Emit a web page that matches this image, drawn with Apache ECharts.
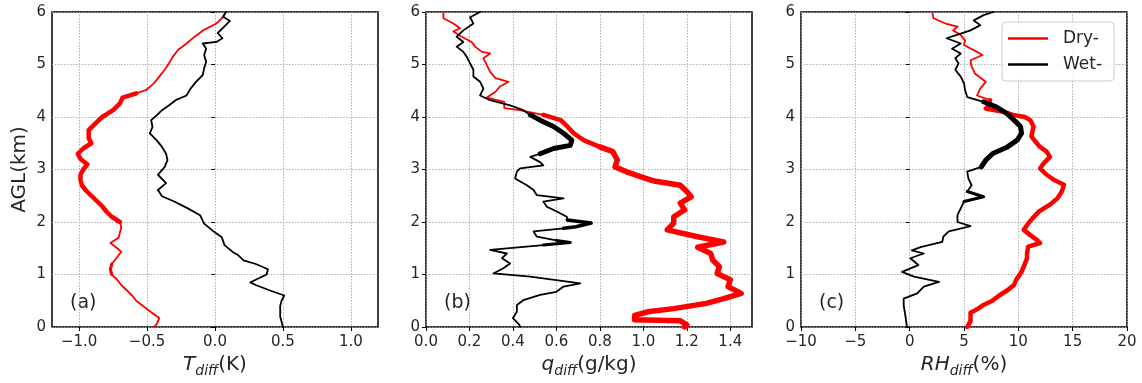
<!DOCTYPE html>
<html>
<head>
<meta charset="utf-8">
<script src="https://cdn.jsdelivr.net/npm/echarts@6/dist/echarts.min.js"></script>
<style>html,body{margin:0;padding:0;background:#fff}#c{width:1142px;height:383px}</style>
</head>
<body>
<div id="c"></div>
<script>
// ---- data: [height (km), value] ----
const aDry = [[0,-0.45],[0.05,-0.43],[0.17,-0.41],[0.3,-0.48],[0.4,-0.53],[0.5,-0.58],[0.6,-0.61],[0.7,-0.65],[0.8,-0.69],[0.9,-0.72],[1.0,-0.76],[1.1,-0.77],[1.2,-0.76],[1.3,-0.73],[1.43,-0.69],[1.5,-0.72],[1.6,-0.77],[1.7,-0.71],[1.8,-0.70],[1.9,-0.69],[2.0,-0.70],[2.1,-0.76],[2.2,-0.80],[2.3,-0.83],[2.4,-0.87],[2.5,-0.91],[2.6,-0.95],[2.7,-0.98],[2.8,-0.99],[2.9,-0.99],[3.0,-0.97],[3.1,-0.94],[3.2,-0.99],[3.3,-1.01],[3.4,-0.97],[3.5,-0.91],[3.6,-0.93],[3.75,-0.93],[3.88,-0.88],[4.0,-0.83],[4.13,-0.75],[4.26,-0.70],[4.37,-0.68],[4.45,-0.58],[4.51,-0.51],[4.64,-0.45],[4.77,-0.41],[4.9,-0.37],[5.02,-0.34],[5.15,-0.31],[5.28,-0.27],[5.4,-0.21],[5.53,-0.15],[5.66,-0.08],[5.78,0.01],[5.91,0.06],[6.0,0.08]];
const aWet = [[0,0.50],[0.1,0.49],[0.2,0.48],[0.3,0.48],[0.4,0.48],[0.5,0.49],[0.6,0.51],[0.7,0.40],[0.8,0.30],[0.85,0.26],[0.9,0.30],[1.0,0.38],[1.1,0.39],[1.2,0.30],[1.27,0.21],[1.37,0.17],[1.43,0.13],[1.56,0.07],[1.71,0.05],[1.84,-0.02],[1.97,-0.08],[2.13,-0.11],[2.26,-0.20],[2.39,-0.30],[2.49,-0.39],[2.61,-0.42],[2.74,-0.36],[2.9,-0.42],[3.05,-0.37],[3.18,-0.35],[3.3,-0.36],[3.43,-0.39],[3.56,-0.43],[3.69,-0.48],[3.81,-0.46],[3.94,-0.47],[4.03,-0.43],[4.13,-0.39],[4.22,-0.34],[4.32,-0.29],[4.41,-0.21],[4.54,-0.18],[4.67,-0.14],[4.8,-0.09],[4.93,-0.08],[5.05,-0.065],[5.18,-0.08],[5.3,-0.065],[5.4,-0.09],[5.43,0.01],[5.5,0.055],[5.6,0.02],[5.69,0.055],[5.83,0.11],[5.91,0.06],[6.0,0.08]];
const bDry = [[0,1.19],[0.04,1.20],[0.12,1.17],[0.14,0.96],[0.17,0.955],[0.22,0.96],[0.29,1.02],[0.35,1.14],[0.45,1.29],[0.54,1.37],[0.64,1.45],[0.77,1.39],[0.9,1.40],[1.02,1.34],[1.15,1.35],[1.27,1.32],[1.4,1.31],[1.52,1.25],[1.62,1.37],[1.72,1.25],[1.85,1.11],[1.98,1.14],[2.1,1.14],[2.23,1.19],[2.36,1.17],[2.48,1.22],[2.58,1.20],[2.7,1.17],[2.78,1.05],[2.86,0.99],[2.96,0.92],[3.05,0.87],[3.18,0.88],[3.34,0.86],[3.43,0.80],[3.56,0.725],[3.69,0.68],[3.82,0.65],[3.94,0.62],[4.04,0.54],[4.13,0.43],[4.17,0.36],[4.29,0.36],[4.37,0.28],[4.48,0.32],[4.58,0.34],[4.67,0.38],[4.74,0.32],[4.86,0.295],[4.99,0.28],[5.12,0.264],[5.21,0.295],[5.24,0.257],[5.34,0.226],[5.43,0.21],[5.53,0.164],[5.63,0.126],[5.69,0.157],[5.78,0.126],[5.88,0.08],[6.0,0.08]];
const bWet = [[0,0.433],[0.04,0.43],[0.17,0.40],[0.29,0.418],[0.42,0.418],[0.51,0.448],[0.61,0.525],[0.67,0.60],[0.77,0.633],[0.83,0.71],[0.86,0.71],[0.96,0.48],[1.02,0.31],[1.12,0.356],[1.21,0.387],[1.31,0.35],[1.4,0.372],[1.47,0.295],[1.56,0.54],[1.61,0.664],[1.65,0.60],[1.72,0.51],[1.82,0.495],[1.88,0.633],[1.91,0.69],[1.98,0.76],[2.04,0.65],[2.1,0.648],[2.2,0.602],[2.29,0.556],[2.39,0.54],[2.45,0.633],[2.51,0.51],[2.61,0.495],[2.7,0.464],[2.83,0.41],[2.96,0.418],[3.02,0.433],[3.08,0.54],[3.14,0.525],[3.24,0.48],[3.3,0.525],[3.4,0.587],[3.46,0.664],[3.56,0.671],[3.69,0.633],[3.82,0.587],[3.94,0.525],[4.04,0.48],[4.13,0.448],[4.22,0.387],[4.32,0.295],[4.41,0.249],[4.54,0.264],[4.67,0.249],[4.77,0.218],[4.9,0.218],[5.02,0.203],[5.15,0.187],[5.24,0.172],[5.34,0.141],[5.43,0.172],[5.53,0.141],[5.65,0.172],[5.78,0.218],[5.9,0.203],[6.0,0.249]];
const cDry = [[0,5.3],[0.11,5.6],[0.27,5.6],[0.35,6.3],[0.42,6.8],[0.5,7.6],[0.61,8.3],[0.7,9.0],[0.8,9.6],[0.9,9.8],[1.05,10.3],[1.15,10.5],[1.31,10.8],[1.4,10.8],[1.53,10.9],[1.6,12.0],[1.66,11.7],[1.75,11.1],[1.85,10.5],[1.97,10.9],[2.07,11.3],[2.2,11.9],[2.33,12.9],[2.45,13.6],[2.58,14.0],[2.71,14.2],[2.8,13.3],[2.9,12.6],[3.02,12.0],[3.11,12.3],[3.24,12.9],[3.34,12.6],[3.43,12.0],[3.5,11.7],[3.63,11.2],[3.82,11.4],[3.94,11.1],[4.0,10.6],[4.04,9.5],[4.1,8.6],[4.16,7.0],[4.22,7.3],[4.32,7.4],[4.41,6.2],[4.54,6.5],[4.67,7.0],[4.83,6.0],[4.96,5.7],[5.08,5.6],[5.18,6.7],[5.24,6.2],[5.37,5.0],[5.46,5.1],[5.56,4.7],[5.65,4.0],[5.72,4.4],[5.78,3.3],[5.88,2.2],[5.97,2.1]];
const cWet = [[0,-0.25],[0.22,-0.4],[0.41,-0.55],[0.54,-0.55],[0.64,0.7],[0.77,1.3],[0.86,2.7],[0.96,0.4],[1.05,-0.7],[1.18,0.8],[1.31,0.06],[1.4,1.3],[1.46,0.2],[1.52,1.0],[1.62,3.0],[1.72,3.1],[1.82,3.6],[1.92,5.6],[2.0,4.4],[2.13,4.4],[2.26,4.7],[2.39,5.0],[2.48,6.8],[2.58,5.3],[2.7,5.7],[2.83,5.4],[2.96,5.3],[3.05,6.6],[3.18,7.0],[3.31,7.7],[3.43,9.0],[3.56,9.9],[3.69,10.3],[3.82,10.2],[3.94,9.6],[4.06,9.0],[4.19,8.0],[4.29,6.8],[4.38,5.3],[4.51,5.1],[4.64,5.0],[4.77,4.7],[4.9,4.2],[5.02,4.5],[5.12,4.2],[5.21,4.7],[5.3,3.9],[5.4,4.7],[5.5,3.4],[5.59,4.7],[5.65,5.6],[5.75,6.5],[5.84,5.9],[5.94,6.8],[6.0,7.7]];

const ticksA = [-1.0,-0.5,0.0,0.5,1.0];
const ticksB = [0.0,0.2,0.4,0.6,0.8,1.0,1.2,1.4];
const ticksC = [-10,-5,0,5,10,15,20];
const panelLabels = ['(a)','(b)','(c)'];
const seriesNames = ['Dry-','Wet-'];

// ---- styling / layout ----
const FONT = 'DejaVu Sans';
const RED = '#ff0000', BLACK = '#000000';
const grids = [{left:52},{left:426},{left:801}];
const xRanges = [[-1.2,1.2],[0,1.5],[-10,20]];
const xTicks = [ticksA, ticksB, ticksC];
const xNames = [['T','(K)'],['q','(g/kg)'],['RH','(%)']];
const fmt1 = v => v.toFixed(1).replace('-', '\u2212');
const fmt0 = v => String(v).replace('-', '\u2212');
const xFmts = [fmt1, fmt1, fmt0];
const data = [[aDry,aWet],[bDry,bWet],[cDry,cWet]];
// thick overlays [panel, which(0 dry,1 wet), lo, hi, width]
const thick = [
  [0,0,2.0,4.45,4.5],[0,0,1.0,1.25,3],[0,0,1.55,1.65,3],
  [1,0,0,3.5,5.5],[1,0,3.43,4.1,4.5],[1,1,3.3,4.1,5],[1,1,1.55,1.66,3],[1,1,1.88,2.05,3.5],
  [2,0,0,4.35,4.5],[2,1,3.05,4.3,5],[2,1,2.39,2.58,3]
];

const toXY = arr => arr.map(p => [p[1], p[0]]);
const sub = (arr, lo, hi) => toXY(arr.filter(p => p[0] >= lo && p[0] <= hi));

const option = {
  animation: false,
  grid: grids.map(g => ({left:g.left, width:326, top:12, height:315, show:true, borderColor:'#000', borderWidth:1.5, backgroundColor:'transparent'})),
  xAxis: grids.map((g,i) => ({
    gridIndex:i, type:'value', min:xRanges[i][0], max:xRanges[i][1],
    axisLine:{show:false},
    axisTick:{show:true, length:4, lineStyle:{color:'#000', width:1}, customValues:xTicks[i]},
    axisLabel:{customValues:xTicks[i], formatter:xFmts[i], fontSize:15, color:'#262626', margin:8, fontFamily:FONT},
    splitLine:{show:true, lineStyle:{type:[1.5,1.5], color:'#a8a8a8', width:0.9}},
    name:'{i|'+xNames[i][0]+'}{s|diff}{n|'+xNames[i][1]+'}',
    nameLocation:'middle', nameGap:24,
    nameTextStyle:{rich:{
      i:{fontSize:20, fontStyle:'italic', fontFamily:FONT, color:'#262626', lineHeight:26},
      s:{fontSize:14, fontStyle:'italic', fontFamily:FONT, color:'#262626', lineHeight:14, verticalAlign:'bottom'},
      n:{fontSize:20, fontFamily:FONT, color:'#262626', lineHeight:26}
    }}
  })),
  yAxis: grids.map((g,i) => ({
    gridIndex:i, type:'value', min:0, max:6, interval:1,
    axisLine:{show:false},
    axisTick:{show:true, length:4, lineStyle:{color:'#000', width:1}},
    axisLabel:{fontSize:15, color:'#262626', margin:6, fontFamily:FONT},
    splitLine:{show:true, lineStyle:{type:[1.5,1.5], color:'#a8a8a8', width:0.9}},
    name: i===0 ? 'AGL(km)' : '',
    nameLocation:'middle', nameGap:22,
    nameTextStyle:{fontSize:20, fontFamily:FONT, color:'#262626'}
  })),
  legend: {
    data: seriesNames, orient:'vertical', left:1002, top:22,
    icon:'rect', itemWidth:40, itemHeight:2.5,
    padding:[8,12,8,6], itemGap:9,
    backgroundColor:'rgba(255,255,255,0.85)', borderColor:'#cccccc', borderWidth:1, borderRadius:4,
    textStyle:{fontSize:17, fontFamily:FONT, color:'#262626', padding:[0,0,0,10]}
  },
  graphic: panelLabels.map((t,i) => ({
    type:'text', left: grids[i].left + 18, top: 294,
    style:{text:t, fontSize:19, fontFamily:FONT, fill:'#262626'}
  })),
  series: []
};

data.forEach((pair, i) => {
  pair.forEach((arr, k) => {
    option.series.push({
      type:'line', name:seriesNames[k], xAxisIndex:i, yAxisIndex:i,
      data:toXY(arr), symbol:'none', smooth:false, z: 2 + k*2,
      lineStyle:{color:k?BLACK:RED, width:1.8, join:'round', cap:'round'},
      itemStyle:{color:k?BLACK:RED}
    });
  });
});
thick.forEach(t => {
  const [i,k,lo,hi,w] = t;
  option.series.push({
    type:'line', name:'thick'+i+k+lo, xAxisIndex:i, yAxisIndex:i,
    data:sub(data[i][k], lo, hi), symbol:'none', z: 3 + k*2,
    lineStyle:{color:k?BLACK:RED, width:w, join:'round', cap:'round'},
    itemStyle:{color:k?BLACK:RED}
  });
});

const chart = echarts.init(document.getElementById('c'), null, {renderer:'canvas'});
chart.setOption(option);
</script>
</body>
</html>
